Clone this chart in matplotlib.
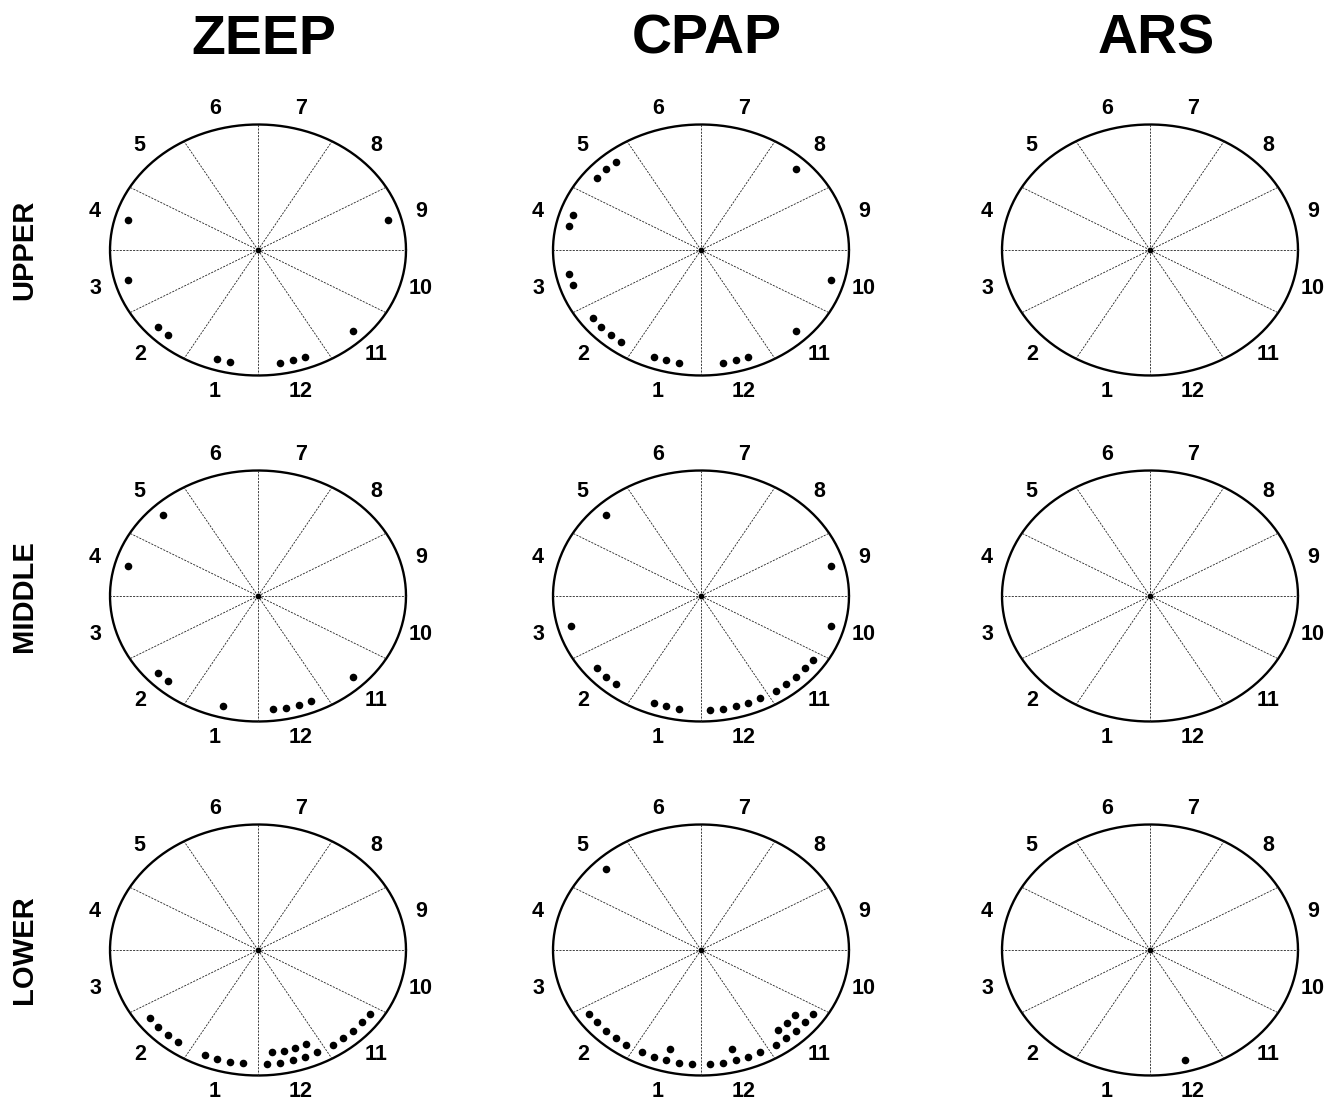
import numpy as np
import matplotlib
matplotlib.use("Agg")
import matplotlib.pyplot as plt

plt.rcParams['font.family'] = ['Liberation Sans', 'DejaVu Sans']

# sectors 1..12 (clock positions around the ellipse)
sectors = list(range(1, 13))
columns = ['ZEEP', 'CPAP', 'ARS']
rows = ['UPPER', 'MIDDLE', 'LOWER']

# number of dots per sector (1..12)
zeep_upper = [2, 2, 1, 1, 0, 0, 0, 0, 1, 0, 1, 3]
cpap_upper = [3, 4, 2, 2, 3, 0, 0, 1, 0, 1, 1, 3]
ars_upper = [0, 0, 0, 0, 0, 0, 0, 0, 0, 0, 0, 0]
zeep_middle = [1, 2, 0, 1, 1, 0, 0, 0, 0, 0, 1, 4]
cpap_middle = [3, 3, 1, 0, 1, 0, 0, 0, 1, 1, 5, 5]
ars_middle = [0, 0, 0, 0, 0, 0, 0, 0, 0, 0, 0, 0]
zeep_lower = [4, 4, 0, 0, 0, 0, 0, 0, 0, 0, 5, 9]
cpap_lower = [6, 5, 0, 0, 1, 0, 0, 0, 0, 0, 8, 6]
ars_lower = [0, 0, 0, 0, 0, 0, 0, 0, 0, 0, 0, 1]

grid = [[zeep_upper, cpap_upper, ars_upper],
        [zeep_middle, cpap_middle, ars_middle],
        [zeep_lower, cpap_lower, ars_lower]]

W, H = 1343, 1104
fig = plt.figure(figsize=(W / 100, H / 100), dpi=100)
fig.patch.set_facecolor('white')

RX, RY = 148, 125.5          # ellipse radii in px
col_x = [258, 701, 1150]
row_y = [250, 596, 950]
LIM = 1.35


def sector_mid(k):
    return 285 - 30 * k


def dot_positions(k, n):
    # outer row up to 5 dots, the rest in an inner row
    out = []
    rows_n = [min(n, 5), max(n - 5, 0)]
    for rr, m in zip([0.91, 0.82], rows_n):
        if m == 0:
            continue
        mid = sector_mid(k)
        angs = mid + (np.arange(m) - (m - 1) / 2) * 5.6
        for a in angs:
            out.append((rr * np.cos(np.radians(a)), rr * np.sin(np.radians(a))))
    return out


t = np.linspace(0, 2 * np.pi, 400)
for i, rname in enumerate(rows):
    for j, cname in enumerate(columns):
        cx, cy = col_x[j], row_y[i]
        ax = fig.add_axes([(cx - LIM * RX) / W, 1 - (cy + LIM * RY) / H,
                           2 * LIM * RX / W, 2 * LIM * RY / H])
        ax.set_xlim(-LIM, LIM)
        ax.set_ylim(-LIM, LIM)
        ax.axis('off')
        ax.plot(np.cos(t), np.sin(t), color='black', lw=1.7, solid_capstyle='round')
        for a in range(0, 360, 30):
            ar = np.radians(a)
            ax.plot([0, np.cos(ar)], [0, np.sin(ar)], color='#222222', lw=0.6,
                    linestyle=(0, (2.5, 1.5)))
        ax.scatter([0], [0], s=10, color='black', zorder=3)
        counts = grid[i][j]
        xs, ys = [], []
        for k, n in zip(sectors, counts):
            for px, py in dot_positions(k, n):
                xs.append(px)
                ys.append(py)
        if xs:
            ax.scatter(xs, ys, s=30, color='black', zorder=4, linewidths=0)
        # sector numbers
        for k in sectors:
            a = np.radians(sector_mid(k))
            nx, ny = np.cos(a) / RX, np.sin(a) / RY
            nn = np.hypot(nx, ny)
            nx, ny = nx / nn, ny / nn
            lx = np.cos(a) + 21 * nx / RX
            ly = np.sin(a) + 21 * ny / RY
            ax.text(lx, ly, str(k), ha='center', va='center', fontsize=15.5,
                    fontweight='bold', clip_on=False)

for j, cname in enumerate(columns):
    fig.text((col_x[j] + 6) / W, 1 - 40 / H, cname, ha='center', va='center',
             fontsize=40, fontweight='bold')
for i, rname in enumerate(rows):
    fig.text(24 / W, 1 - row_y[i] / H, rname, ha='center', va='center',
             rotation=90, fontsize=21, fontweight='bold')

fig.savefig('out.png', dpi=100, facecolor='white')
